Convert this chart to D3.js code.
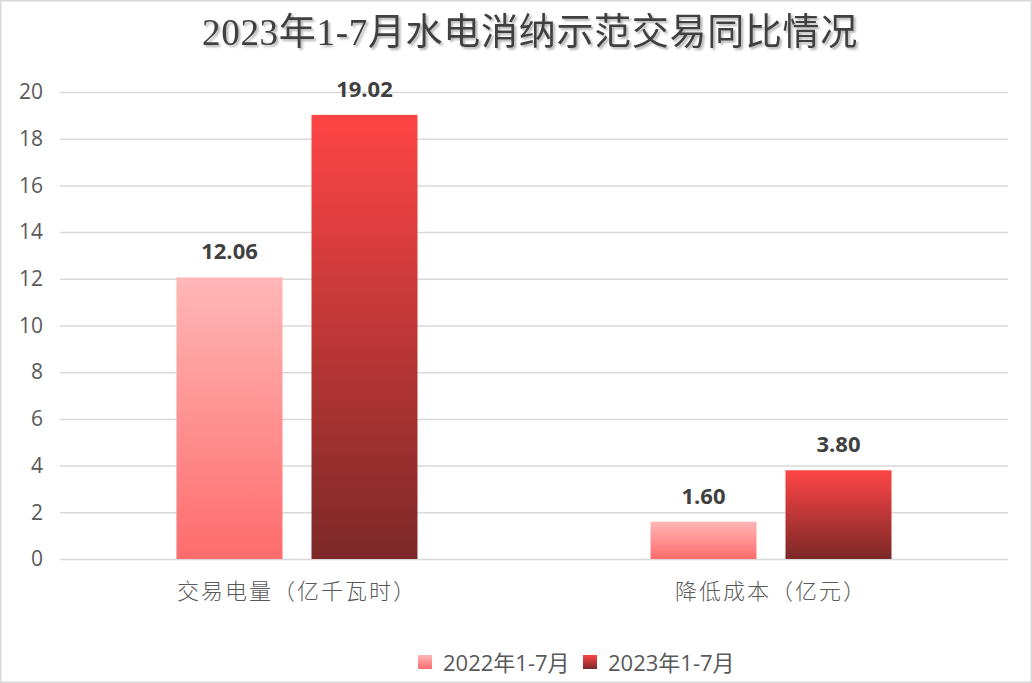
<!DOCTYPE html>
<html><head><meta charset="utf-8">
<script src="https://cdnjs.cloudflare.com/ajax/libs/d3/7.8.5/d3.min.js"></script>
<style>
html,body{margin:0;padding:0;background:#fff;}
svg{display:block;}
</style></head>
<body>
<svg id="chart" width="1032" height="683"></svg>
<script>
const title = "2023年1-7月水电消纳示范交易同比情况";
const categories = ["交易电量（亿千瓦时）", "降低成本（亿元）"];
const seriesNames = ["2022年1-7月", "2023年1-7月"];
const values2022 = [12.06, 1.60];
const values2023 = [19.02, 3.80];
const yTicks = [0, 2, 4, 6, 8, 10, 12, 14, 16, 18, 20];

const W = 1032, H = 683;
const margin = {left: 60, right: 24, top: 92, bottom: 124};
const svg = d3.select("#chart");
const defs = svg.append("defs");

const gradStops = [
  [{o: "0%", c: "#FFB7B7"}, {o: "100%", c: "#FF6C6C"}],
  [{o: "0%", c: "#FF4545"}, {o: "100%", c: "#7C2828"}]
];
gradStops.forEach((stops, i) => {
  const g = defs.append("linearGradient").attr("id", "g" + i)
    .attr("x1", 0).attr("y1", 0).attr("x2", 0).attr("y2", 1);
  stops.forEach(s => g.append("stop").attr("offset", s.o).attr("stop-color", s.c));
});
const f = defs.append("filter").attr("id", "shadow").attr("x", "-5%").attr("y", "-20%").attr("width", "110%").attr("height", "150%");
f.append("feDropShadow").attr("dx", 2).attr("dy", 2).attr("stdDeviation", 0.8).attr("flood-color", "#000").attr("flood-opacity", 0.3);

// frame
svg.append("rect").attr("x", 0.75).attr("y", 0.75).attr("width", W - 1.5).attr("height", H - 1.5)
  .attr("fill", "#fff").attr("stroke", "#D9D9D9").attr("stroke-width", 1.5);

const x0 = d3.scaleBand().domain(categories).range([margin.left, W - margin.right]).padding(0);
const x1 = d3.scaleBand().domain(seriesNames).range([116.5, x0.bandwidth() - 116.5]).paddingInner(0.2148).paddingOuter(0);
const y = d3.scaleLinear().domain([0, 20]).range([H - margin.bottom, margin.top]);

// gridlines
const yAxis = d3.axisLeft(y).tickValues(yTicks).tickSize(-(W - margin.left - margin.right)).tickPadding(17).tickFormat(d3.format("d"));
const ga = svg.append("g").attr("transform", `translate(${margin.left},0)`).call(yAxis);
ga.select(".domain").remove();
ga.selectAll(".tick line").attr("stroke", "#D9D9D9").attr("stroke-width", 1.5);
ga.selectAll(".tick text").attr("fill", "#595959").attr("font-size", 21)
  .attr("font-family", "'Open Sans','Noto Sans',sans-serif");

const data = categories.map((c, i) => ({cat: c, vals: [values2022[i], values2023[i]]}));

const groups = svg.append("g").selectAll("g").data(data).join("g")
  .attr("transform", d => `translate(${x0(d.cat)},0)`);

groups.selectAll("rect").data(d => d.vals.map((v, i) => ({s: seriesNames[i], v, i})))
  .join("rect")
  .attr("x", d => x1(d.s)).attr("width", x1.bandwidth())
  .attr("y", d => y(d.v)).attr("height", d => y(0) - y(d.v))
  .attr("fill", d => `url(#g${d.i})`);

groups.selectAll("text.val").data(d => d.vals.map((v, i) => ({s: seriesNames[i], v, i})))
  .join("text").attr("class", "val")
  .attr("x", d => x1(d.s) + x1.bandwidth() / 2)
  .attr("y", d => y(d.v) - 18)
  .attr("text-anchor", "middle")
  .attr("font-family", "'Open Sans','Noto Sans',sans-serif")
  .attr("font-weight", "bold").attr("font-size", 22).attr("fill", "#404040")
  .text(d => d3.format(".2f")(d.v));

// category labels
svg.append("g").selectAll("text").data(categories).join("text")
  .attr("x", d => x0(d) + x0.bandwidth() / 2)
  .attr("y", H - margin.bottom + 40)
  .attr("text-anchor", "middle")
  .attr("font-family", "'Noto Sans CJK SC',sans-serif")
  .attr("font-weight", 300)
  .attr("font-size", 22).attr("letter-spacing", 2).attr("fill", "#595959")
  .text(d => d);

// title
svg.append("text").attr("x", 530).attr("y", 45).attr("text-anchor", "middle")
  .attr("font-family", "'Liberation Serif','Noto Sans CJK SC',serif")
  .attr("font-size", 37).attr("fill", "#404040").attr("filter", "url(#shadow)")
  .attr("letter-spacing", 0.7)
  .text(title);

// legend
const legend = svg.append("g").attr("transform", "translate(418,655)");
const lx = [0, 165];
seriesNames.forEach((s, i) => {
  const g = legend.append("g").attr("transform", `translate(${lx[i]},0)`);
  g.append("rect").attr("width", 14).attr("height", 14).attr("fill", `url(#g${i})`);
  g.append("text").attr("x", 25).attr("y", 16)
    .attr("font-family", "'Open Sans','Noto Sans CJK SC',sans-serif")
    .attr("font-size", 22).attr("fill", "#595959").text(s);
});
</script>
</body></html>
